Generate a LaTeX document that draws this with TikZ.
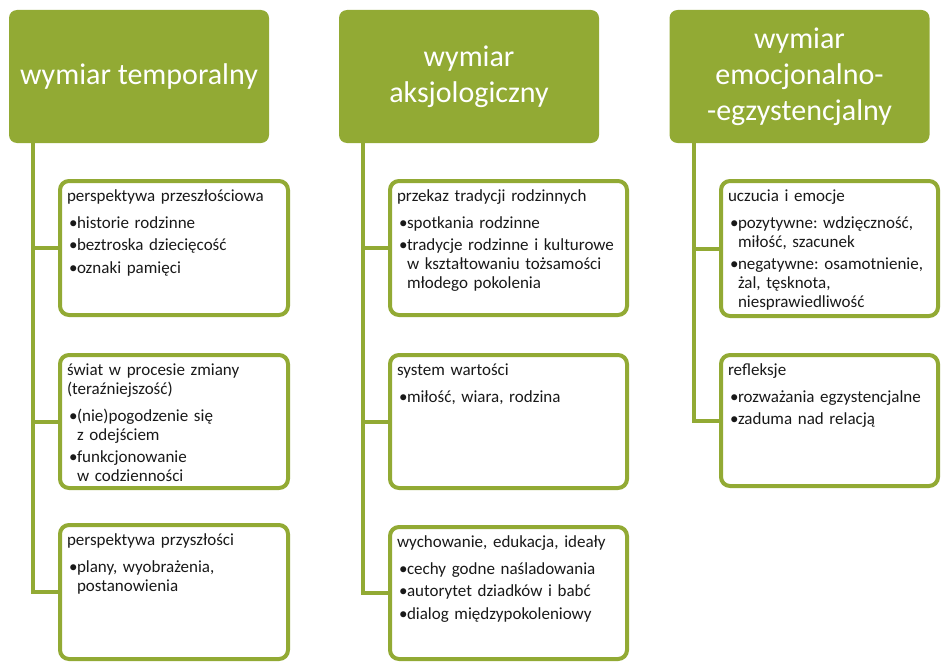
\documentclass[tikz,border=0pt]{standalone}
\usepackage{fontspec}
\setmainfont{Carlito}
\definecolor{olive}{RGB}{146,170,52}
\newcommand{\hd}[1]{\noindent #1\par\vspace{4.5pt}}
\newcommand{\bu}[1]{\par\vspace{3.5pt}\hangindent=10pt\hangafter=1\noindent\makebox[10pt][l]{\hspace{2pt}•}#1\par}
\tikzset{
  header/.style={fill=olive, rounded corners=8pt, minimum width=260pt, minimum height=133pt, inner sep=0pt, outer sep=0pt, text=white, align=center, font=\fontsize{30}{36}\selectfont},
  childbox/.style={draw=olive, line width=4pt, fill=white, rounded corners=9pt, anchor=north west, inner sep=0pt, outer sep=0pt},
  content/.style={anchor=base west, inner sep=0pt, outer sep=0pt, text width=230pt, font=\fontsize{17}{19}\selectfont\frenchspacing\raggedright, text=black!90},
  spine/.style={draw=olive, line width=4pt, line join=miter}
}
\begin{document}
\begin{tikzpicture}[x=1pt,y=-1pt]
\useasboundingbox (0,0) rectangle (941,661);
% headers
\node[header] (h1) at (139,76.5) {wymiar temporalny};
\node[header] (h2) at (469,76.5) {wymiar\\aksjologiczny};
\node[header] (h3) at (799.5,76.5) {wymiar\\emocjonalno-\\-egzystencjalny};
% spine coordinates
\coordinate (s1) at (33,143);
\coordinate (s2) at (363,143);
\coordinate (s3) at (694,143);
% left column boxes
\node[childbox, minimum width=228pt, minimum height=134pt] (a1) at (60,181) {};
\node[childbox, minimum width=228pt, minimum height=133pt] (a2) at (60,355) {};
\node[childbox, minimum width=228pt, minimum height=134pt] (a3) at (60,525) {};
% middle column boxes
\node[childbox, minimum width=237pt, minimum height=134pt] (m1) at (390,181) {};
\node[childbox, minimum width=237pt, minimum height=133pt] (m2) at (390,355) {};
\node[childbox, minimum width=237pt, minimum height=132pt] (m3) at (390,527) {};
% right column boxes
\node[childbox, minimum width=217pt, minimum height=135pt] (r1) at (721,181) {};
\node[childbox, minimum width=217pt, minimum height=131pt] (r2) at (721,355) {};
% connectors
\draw[spine] (s1) |- (a3.west);
\draw[spine] (s1) |- (a1.west);
\draw[spine] (s1) |- (a2.west);
\draw[spine] (s2) |- (m3.west);
\draw[spine] (s2) |- (m1.west);
\draw[spine] (s2) |- (m2.west);
\draw[spine] (s3) |- (r2.west);
\draw[spine] (s3) |- (r1.west);
% contents
\node[content] (ta1) at ([shift={(7,20)}]a1.north west) {\hd{perspektywa przeszłościowa}\bu{historie rodzinne}\bu{beztroska dziecięcość}\bu{oznaki pamięci}};
\node[content] (ta2) at ([shift={(7,20)}]a2.north west) {\hd{świat w procesie zmiany\newline(teraźniejszość)}\bu{(nie)pogodzenie się\newline z odejściem}\bu{funkcjonowanie\newline w codzienności}};
\node[content] (ta3) at ([shift={(7,20)}]a3.north west) {\hd{perspektywa przyszłości}\bu{plany, wyobrażenia,\newline postanowienia}};
\node[content] (tm1) at ([shift={(7,20)}]m1.north west) {\hd{przekaz tradycji rodzinnych}\bu{spotkania rodzinne}\bu{tradycje rodzinne i kulturowe\newline w kształtowaniu tożsamości\newline młodego pokolenia}};
\node[content] (tm2) at ([shift={(7,20)}]m2.north west) {\hd{system wartości}\bu{miłość, wiara, rodzina}};
\node[content] (tm3) at ([shift={(7,20)}]m3.north west) {\hd{wychowanie, edukacja, ideały}\bu{cechy godne naśladowania}\bu{autorytet dziadków i babć}\bu{dialog międzypokoleniowy}};
\node[content] (tr1) at ([shift={(7,20)}]r1.north west) {\hd{uczucia i emocje}\bu{pozytywne: wdzięczność,\newline miłość, szacunek}\bu{negatywne: osamotnienie,\newline żal, tęsknota,\newline niesprawiedliwość}};
\node[content] (tr2) at ([shift={(7,20)}]r2.north west) {\hd{refleksje}\bu{rozważania egzystencjalne}\bu{zaduma nad relacją}};
\end{tikzpicture}
\end{document}
